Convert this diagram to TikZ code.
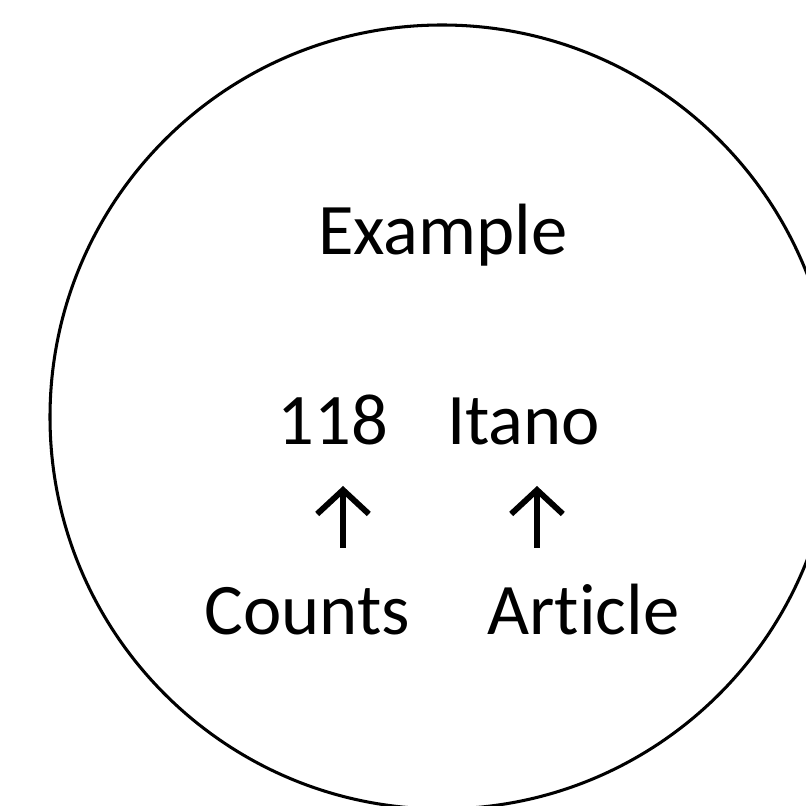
\documentclass[tikz,border=0pt]{standalone}
\usepackage{fontspec}
\setmainfont{Carlito}[Ligatures=NoCommon]
\usetikzlibrary{arrows.meta}

\tikzset{
  label text/.style={inner sep=0pt, anchor=base, font=\fontsize{62}{74}\selectfont},
  up arrow/.style={line width=5pt, -{Straight Barb[length=0.72cm,width=1.55cm]}}
}

\begin{document}
\begin{tikzpicture}[x=0.03cm, y=0.03cm]
\useasboundingbox (0,0) rectangle (806,806);
\clip (0,0) rectangle (806,806);
\draw[line width=2.6pt] (442,389) circle [radius=392];
\node[label text] (node_example) at (443,551) {Example};
\node[label text] (node_count) at (333,361) {118};
\node[label text] (node_name) at (523.5,361) {Itano};
\node[label text] (node_counts) at (307.5,171) {Counts};
\node[label text] (node_article) at (583.5,171) {Article};
\coordinate (tail_a) at (343,258);
\coordinate (tip_a) at (343,320);
\coordinate (tail_b) at (537,258);
\coordinate (tip_b) at (537,320);
\draw[up arrow] (tail_a) -- (tip_a);
\draw[up arrow] (tail_b) -- (tip_b);

\end{tikzpicture}
\end{document}
